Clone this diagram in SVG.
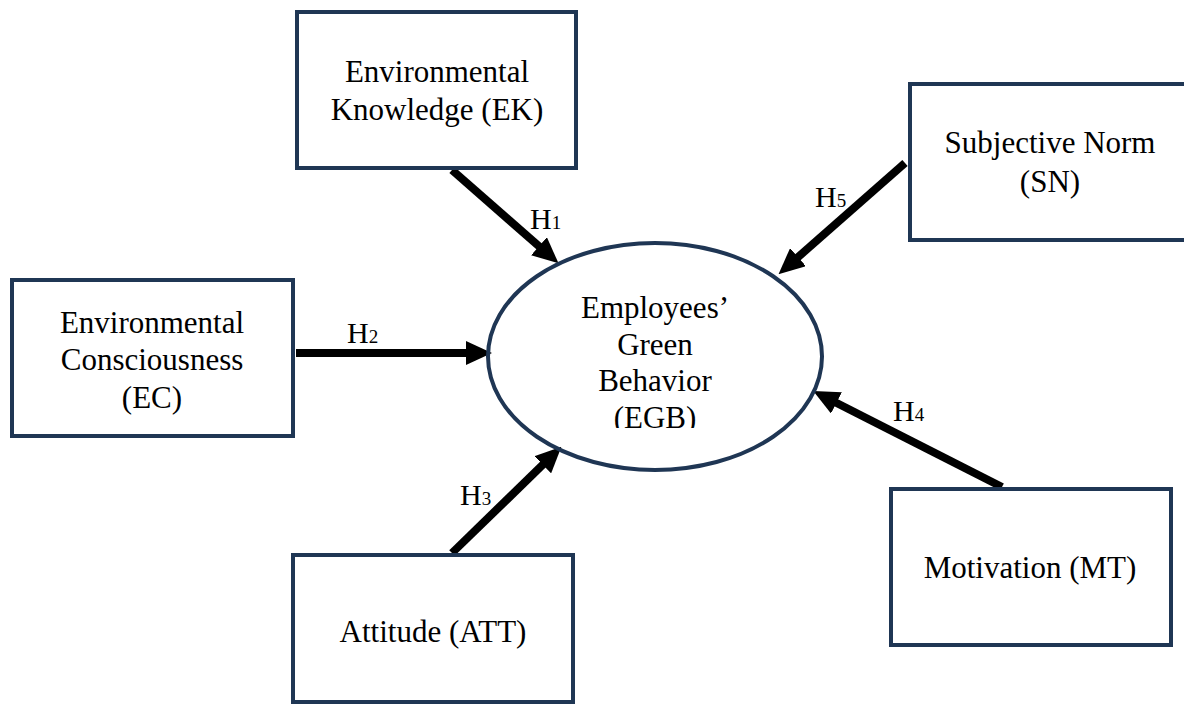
<svg xmlns="http://www.w3.org/2000/svg" width="1184" height="704" viewBox="0 0 1184 704">
<style>
.box{fill:#ffffff;stroke:#1f3654;stroke-width:4}
.lbl{font-family:"Liberation Serif","Times New Roman",serif;font-size:31px;fill:#000;text-anchor:middle}
.h{font-family:"Liberation Serif","Times New Roman",serif;font-size:30px;fill:#000}
.sub{font-size:19px}
.conn{stroke:#000;stroke-width:8;fill:none;marker-end:url(#ah)}
</style>
<defs>
<marker id="ah" markerUnits="userSpaceOnUse" markerWidth="26" markerHeight="24" refX="8" refY="12" orient="auto">
<path d="M0,0 L26,12 L0,24 z" fill="#000"/>
</marker>
<clipPath id="egbclip"><rect x="480" y="240" width="360" height="188"/></clipPath>
</defs>
<rect width="1184" height="704" fill="#ffffff"/>
<g id="connectors">
<line class="conn" x1="452" y1="170" x2="545" y2="251.5"/>
<line class="conn" x1="296" y1="353" x2="474" y2="353"/>
<line class="conn" x1="452" y1="553" x2="548.5" y2="459.2"/>
<line class="conn" x1="1002" y1="487" x2="829.3" y2="399.2"/>
<line class="conn" x1="905" y1="163" x2="792" y2="262.4"/>
<text class="h" x="530" y="229">H<tspan class="sub">1</tspan></text>
<text class="h" x="347" y="343">H<tspan class="sub">2</tspan></text>
<text class="h" x="460" y="505">H<tspan class="sub">3</tspan></text>
<text class="h" x="893" y="421">H<tspan class="sub">4</tspan></text>
<text class="h" x="815" y="207">H<tspan class="sub">5</tspan></text>
</g>
<g id="node-egb">
<ellipse cx="655" cy="356.5" rx="167" ry="113.5" fill="none" stroke="#1f3654" stroke-width="4"/>
<g clip-path="url(#egbclip)">
<text class="lbl" x="655" y="318">Employees’</text>
<text class="lbl" x="655" y="355">Green</text>
<text class="lbl" x="655" y="391">Behavior</text>
<text class="lbl" x="655" y="428">(EGB)</text>
</g>
</g>
<g id="node-ek">
<rect class="box" x="297" y="12" width="279" height="156"/>
<text class="lbl" x="437" y="82">Environmental</text>
<text class="lbl" x="437" y="120">Knowledge (EK)</text>
</g>
<g id="node-sn">
<rect class="box" x="910" y="84" width="290" height="156"/>
<text class="lbl" x="1050" y="153">Subjective Norm</text>
<text class="lbl" x="1050" y="192">(SN)</text>
</g>
<g id="node-ec">
<rect class="box" x="12" y="280" width="281" height="156"/>
<text class="lbl" x="152" y="333">Environmental</text>
<text class="lbl" x="152" y="370">Consciousness</text>
<text class="lbl" x="152" y="408">(EC)</text>
</g>
<g id="node-att">
<rect class="box" x="293" y="555" width="280" height="147"/>
<text class="lbl" x="433" y="642">Attitude (ATT)</text>
</g>
<g id="node-mt">
<rect class="box" x="891" y="489" width="280" height="156"/>
<text class="lbl" x="1030" y="578">Motivation (MT)</text>
</g>
</svg>
